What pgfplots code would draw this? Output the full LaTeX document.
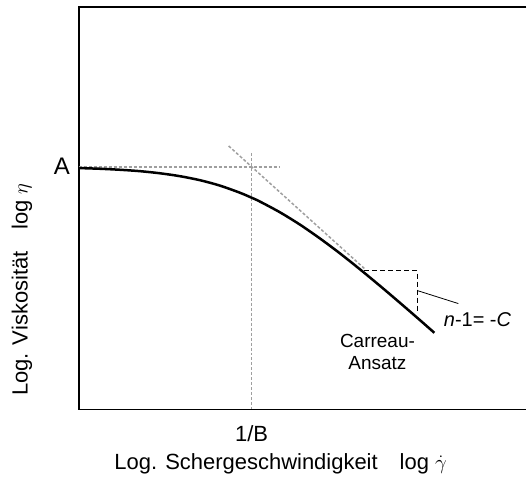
\documentclass[border=0pt]{standalone}
\usepackage{pgfplots}
\pgfplotsset{compat=1.18}
\usepackage{fontspec}
\setmainfont{Liberation Sans}
\begin{document}
\begin{tikzpicture}
\begin{axis}[
  scale only axis, width=448pt, height=403pt,
  xmin=79, xmax=527, ymin=73, ymax=476,
  hide axis, clip=false,
]
% bounding box
\path (axis cs:0,0) rectangle (axis cs:527,483);
% frame (left, top, bottom)
\draw[black, line width=1.5pt] (axis cs:527,476) -- (axis cs:79,476) -- (axis cs:79,73) -- (axis cs:527,73);
% helper lines
\addplot[gray!75, line width=1.5pt, dash pattern=on 3pt off 2pt] coordinates {(79,316) (280,316)};
\addplot[gray!75, line width=1.5pt, dash pattern=on 3pt off 2pt] coordinates {(252,330) (252,73)};
\addplot[gray!75, line width=1.5pt, dash pattern=on 3pt off 2pt] coordinates {(229,336.8) (365,214)};
% triangle
\addplot[black, line width=1pt, dash pattern=on 5pt off 3pt] coordinates {(365,212) (418,212) (418,170)};
\addplot[black, line width=0.8pt] coordinates {(418,192) (459,179)};
% Carreau curve
\addplot[black, line width=2.5pt, smooth] coordinates {
(79,314.7) (100,314.0) (120,313.0) (140,311.6) (160,309.5) (180,306.6)
(200,302.6) (220,297.2) (240,290.1) (252,285.0) (260,281.3) (280,270.6)
(300,258.3) (320,244.5) (340,229.6) (360,213.7) (380,197.2) (400,180.2)
(420,162.9) (435,149.7)};
% texts
\node[font=\fontsize{24}{28}\selectfont] at (axis cs:62,317) {A};
\node[font=\fontsize{22}{26}\selectfont] at (axis cs:252,49) {1/B};
\node[font=\fontsize{22}{26}\selectfont] at (axis cs:281,19) {Log. Schergeschwindigkeit\quad log $\dot{\gamma}$};
\node[font=\fontsize{22}{26}\selectfont, rotate=90] at (axis cs:22,193) {Log. Viskosität\quad log $\eta$};
\node[font=\fontsize{20}{24}\selectfont, anchor=west] at (axis cs:441,163) {\textit{n}-1= -\textit{C}};
\node[font=\fontsize{19}{22}\selectfont, align=center] at (axis cs:378,131) {Carreau-\\Ansatz};
\end{axis}
\end{tikzpicture}
\end{document}
